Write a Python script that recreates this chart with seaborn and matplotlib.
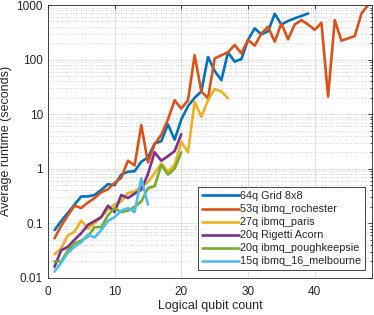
import numpy as np
import pandas as pd
import seaborn as sns
import matplotlib.pyplot as plt
from matplotlib.ticker import FuncFormatter, LogLocator, NullFormatter

# average runtime (seconds) per logical qubit count, starting at 1 qubit
grid_8x8 = [0.075, 0.11, 0.155, 0.22, 0.31, 0.31, 0.33, 0.41, 0.52, 0.5,
            0.78, 0.88, 0.9, 1.35, 1.6, 2.9, 3.2, 6.5, 3.4, 8,
            14, 20, 26, 112, 62, 42, 135, 92, 102, 230,
            375, 290, 330, 690, 440, 510, 570, 630, 700]
rochester = [0.053, 0.09, 0.14, 0.21, 0.19, 0.24, 0.29, 0.37, 0.42, 0.55,
             0.68, 1.4, 1.15, 6.3, 1.3, 2.8, 4.2, 8, 18, 12.6,
             18, 120, 26, 19.6, 105, 120, 137, 185, 130, 230,
             180, 300, 400, 213, 460, 235, 440, 530, 440, 350,
             475, 21, 530, 222, 245, 270, 700, 1000]
paris = [0.027, 0.035, 0.06, 0.07, 0.112, 0.08, 0.1, 0.13, 0.18, 0.22,
         0.25, 0.36, 0.38, 0.47, 0.57, 0.83, 1.25, 0.89, 1.17, 3.1,
         2.0, 17, 9, 18, 29, 26, 19.5]
rigetti = [0.016, 0.032, 0.037, 0.05, 0.066, 0.093, 0.11, 0.13, 0.21, 0.16,
           0.33, 0.29, 0.35, 0.41, 0.8, 2.0, 1.4, 1.7, 2.1, 4.3]
poughkeepsie = [0.02, 0.02, 0.032, 0.043, 0.048, 0.057, 0.085, 0.085, 0.14, 0.19,
                0.16, 0.17, 0.2, 0.25, 0.44, 0.48, 1.17, 0.78, 1.0, 2.0]
melbourne = [0.013, 0.019, 0.029, 0.037, 0.045, 0.062, 0.055, 0.075, 0.11, 0.13,
             0.17, 0.19, 0.16, 0.67, 0.22]

labels = ["64q Grid 8x8", "53q ibmq_rochester", "27q ibmq_paris",
          "20q Rigetti Acorn", "20q ibmq_poughkeepsie", "15q ibmq_16_melbourne"]
series = [grid_8x8, rochester, paris, rigetti, poughkeepsie, melbourne]
colors = ["#0072BD", "#D95319", "#EDB120", "#7E2F8E", "#77AC30", "#4DBEEE"]

rows = []
for name, vals in zip(labels, series):
    for i, v in enumerate(vals):
        rows.append({"qubits": i + 1, "runtime": v, "device": name})
df = pd.DataFrame(rows)

sns.set_style("white")
plt.rcParams["font.family"] = ["Liberation Sans", "DejaVu Sans"]
plt.rcParams["xtick.direction"] = "in"
plt.rcParams["ytick.direction"] = "in"

fig = plt.figure(figsize=(3.74, 3.15), dpi=100)
ax = fig.add_axes([0.128, 0.118, 0.867, 0.866])

sns.lineplot(data=df, x="qubits", y="runtime", hue="device", hue_order=labels,
             palette=colors, linewidth=1.9, ax=ax)

ax.set_yscale("log")
ax.set_ylim(0.01, 1000)
ax.set_xlim(0, 48.6)
ax.set_xticks([0, 10, 20, 30, 40])
ax.yaxis.set_major_locator(LogLocator(base=10, numticks=10))
ax.yaxis.set_minor_locator(LogLocator(base=10, subs=np.arange(2, 10), numticks=10))
ax.yaxis.set_major_formatter(FuncFormatter(lambda v, p: "%g" % v))
ax.yaxis.set_minor_formatter(NullFormatter())

ax.grid(True, which="major", color="#262626", alpha=0.15, linewidth=0.6)
ax.grid(True, which="minor", axis="y", color="#262626", alpha=0.25,
        linestyle=(0, (1, 2)), linewidth=0.6)
ax.set_axisbelow(True)

ax.tick_params(which="both", top=True, right=True, labelsize=8.5,
               colors="#262626", length=3, width=0.6)
ax.tick_params(axis="x", pad=6)
ax.tick_params(which="minor", length=1.8)
for s in ax.spines.values():
    s.set_color("#262626")
    s.set_linewidth(0.6)

ax.set_xlabel("Logical qubit count", fontsize=9, color="#262626", labelpad=1)
ax.set_ylabel("Average runtime (seconds)", fontsize=9, color="#262626", labelpad=3)

leg = ax.legend(loc="lower right", fontsize=7.8, handlelength=3.4,
                handletextpad=0.1, labelspacing=0.28, borderpad=0.35,
                borderaxespad=0.7, fancybox=False, framealpha=1)
leg.get_frame().set_edgecolor("#262626")
leg.get_frame().set_linewidth(0.6)

plt.savefig("out.png", dpi=100)
